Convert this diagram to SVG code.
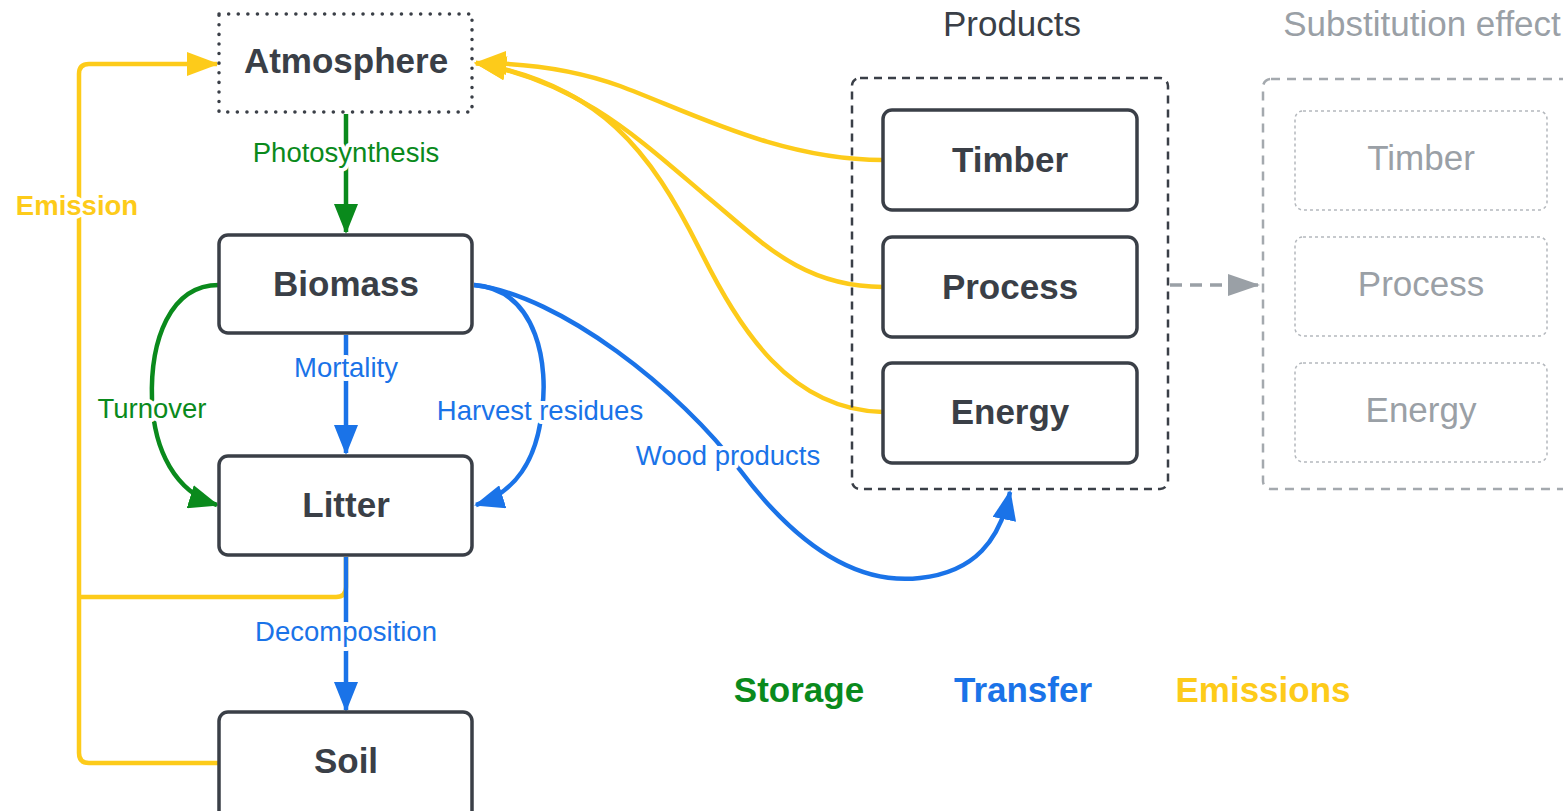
<svg xmlns="http://www.w3.org/2000/svg" width="1563" height="811" viewBox="0 0 1563 811">
<style>
text{font-family:"Liberation Sans",Arial,sans-serif;text-anchor:middle}
.node{fill:#fff;stroke:#3a3f47;stroke-width:3.5}
.nt{font-size:35px;font-weight:bold;fill:#3a3f47}
.gt{font-size:35px;fill:#9aa0a6}
.title{font-size:35px}
.lbl{font-size:27.5px;stroke:#fff;stroke-width:8;stroke-linejoin:round;paint-order:stroke}
.g{stroke:#0a8a1c}.b{stroke:#1a73e8}.y{stroke:#fdcb1a}
.ln{fill:none;stroke-width:4.5}
.leg{font-size:35px;font-weight:bold}
</style>
<defs>
<marker id="ag" markerUnits="userSpaceOnUse" markerWidth="30" markerHeight="24" viewBox="0 0 30 24" refX="28" refY="12" orient="auto"><path d="M0,0 L30,12 L0,24 z" fill="#0a8a1c"/></marker>
<marker id="ab" markerUnits="userSpaceOnUse" markerWidth="30" markerHeight="24" viewBox="0 0 30 24" refX="28" refY="12" orient="auto"><path d="M0,0 L30,12 L0,24 z" fill="#1a73e8"/></marker>
<marker id="ay" markerUnits="userSpaceOnUse" markerWidth="32" markerHeight="24" viewBox="0 0 32 24" refX="30" refY="12" orient="auto"><path d="M0,0 L32,12 L0,24 z" fill="#fdcb1a"/></marker>
<marker id="agr" markerUnits="userSpaceOnUse" markerWidth="32" markerHeight="22" viewBox="0 0 32 22" refX="30" refY="11" orient="auto"><path d="M0,0 L32,11 L0,22 z" fill="#9aa0a6"/></marker>
</defs>
<rect width="1563" height="811" fill="#fff"/>

<g id="connectors">
<!-- emissions -->
<path class="ln y" d="M219,763 H89 Q79,763 79,753 V74 Q79,64 89,64 H217" marker-end="url(#ay)"/>
<path class="ln y" d="M346,557 V587 Q346,597 336,597 H79"/>
<path class="ln y" d="M883,160 C780,160 690,112 620,86 C570,68 520,63 476,63" marker-end="url(#ay)"/>
<path class="ln y" d="M883,287 C800,287 760,240 705,195 C640,140 580,82 476,63" marker-end="url(#ay)"/>
<path class="ln y" d="M883,412 C790,410 740,330 700,250 C650,150 600,85 476,63" marker-end="url(#ay)"/>
<!-- storage -->
<path class="ln g" d="M346,114 V232" marker-end="url(#ag)"/>
<path class="ln g" d="M219,285 C170,285 150,340 152,400 C154,450 175,492 217,505" marker-end="url(#ag)"/>
<!-- transfer -->
<path class="ln b" d="M346,335 V453" marker-end="url(#ab)"/>
<path class="ln b" d="M346,557 V710" marker-end="url(#ab)"/>
<path class="ln b" d="M474,285 C540,290 548,370 542,410 C537,460 515,493 476,505" marker-end="url(#ab)"/>
<path class="ln b" d="M474,285 C560,295 680,390 740,470 C800,550 860,585 920,578 C975,572 1000,540 1010,492" marker-end="url(#ab)"/>
<!-- substitution -->
<path fill="none" stroke="#9aa0a6" stroke-width="3.5" stroke-dasharray="12 8" d="M1170,285 H1230"/>
<path fill="none" stroke="#9aa0a6" stroke-width="3.5" d="M1230,285 H1258" marker-end="url(#agr)"/>
<!-- labels -->
<text class="lbl" x="346" y="162" fill="#0a8a1c">Photosynthesis</text>
<text class="lbl" x="152" y="418" fill="#0a8a1c">Turnover</text>
<text class="lbl" x="346" y="377" fill="#1a73e8">Mortality</text>
<text class="lbl" x="540" y="420" fill="#1a73e8">Harvest residues</text>
<text class="lbl" x="728" y="465" fill="#1a73e8">Wood products</text>
<text class="lbl" x="346" y="641" fill="#1a73e8">Decomposition</text>
<text class="lbl" x="77" y="215" fill="#fdcb1a" font-weight="bold" font-size="28px">Emission</text>
</g>

<g id="atmosphere">
<rect x="219" y="14" width="253" height="98" fill="#fff" stroke="#3a3f47" stroke-width="3.5" stroke-dasharray="0.1 9.5" stroke-linecap="round"/>
<text class="nt" x="346" y="73">Atmosphere</text>
</g>
<g id="biomass"><rect class="node" x="219" y="235" width="253" height="98" rx="9"/><text class="nt" x="346" y="296">Biomass</text></g>
<g id="litter"><rect class="node" x="219" y="456" width="253" height="99" rx="9"/><text class="nt" x="346" y="517">Litter</text></g>
<g id="soil"><rect class="node" x="219" y="712" width="253" height="110" rx="9"/><text class="nt" x="346" y="773">Soil</text></g>

<g id="products">
<text class="title" x="1012" y="36" fill="#3a3f47">Products</text>
<rect x="852" y="78" width="316" height="411" rx="8" fill="none" stroke="#3a3f47" stroke-width="2.5" stroke-dasharray="8 6"/>
<g id="timber"><rect class="node" x="883" y="110" width="254" height="100" rx="9"/><text class="nt" x="1010" y="172">Timber</text></g>
<g id="process"><rect class="node" x="883" y="237" width="254" height="100" rx="9"/><text class="nt" x="1010" y="299">Process</text></g>
<g id="energy"><rect class="node" x="883" y="363" width="254" height="100" rx="9"/><text class="nt" x="1010" y="424">Energy</text></g>
</g>

<g id="substitution">
<text class="title" x="1422" y="36" fill="#9aa0a6">Substitution effect</text>
<rect x="1263" y="79" width="330" height="410" rx="8" fill="none" stroke="#a4a9ae" stroke-width="2.5" stroke-dasharray="9 7"/>
<g id="sub-timber"><rect x="1295" y="111" width="252" height="99" rx="8" fill="none" stroke="#b4b8bd" stroke-width="1.5" stroke-dasharray="3 3"/><text class="gt" x="1421" y="170">Timber</text></g>
<g id="sub-process"><rect x="1295" y="237" width="252" height="99" rx="8" fill="none" stroke="#b4b8bd" stroke-width="1.5" stroke-dasharray="3 3"/><text class="gt" x="1421" y="296">Process</text></g>
<g id="sub-energy"><rect x="1295" y="363" width="252" height="99" rx="8" fill="none" stroke="#b4b8bd" stroke-width="1.5" stroke-dasharray="3 3"/><text class="gt" x="1421" y="422">Energy</text></g>
</g>

<g id="legend">
<text class="leg" x="799" y="702" fill="#0a8a1c">Storage</text>
<text class="leg" x="1023" y="702" fill="#1a73e8">Transfer</text>
<text class="leg" x="1263" y="702" fill="#fdcb1a">Emissions</text>
</g>
</svg>
